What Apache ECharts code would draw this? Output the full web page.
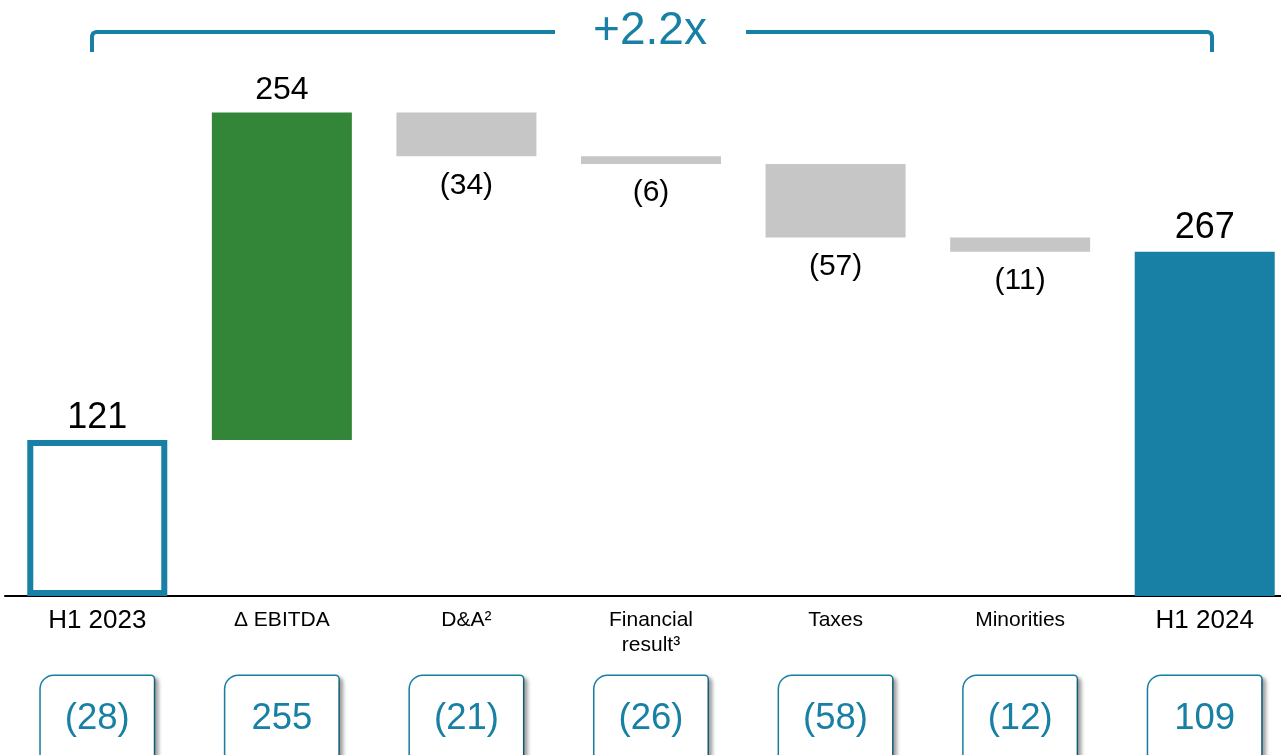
<!DOCTYPE html>
<html>
<head>
<meta charset="utf-8">
<script src="https://cdn.jsdelivr.net/npm/echarts@6/dist/echarts.min.js"></script>
<style>
  html, body { margin: 0; padding: 0; background: #fff; }
  #chart { width: 1281px; height: 755px; }
</style>
</head>
<body>
<div id="chart"></div>
<script>
// 类目与数值
var categories = ['H1 2023', 'Δ EBITDA', 'D&A²', 'Financial\nresult³', 'Taxes', 'Minorities', 'H1 2024']
var changes = [121, 254, -34, -6, -57, -11, 267]
var isTotal = [true, false, false, false, false, false, true]
var barLabels = ['121', '254', '(34)', '(6)', '(57)', '(11)', '267']
var boxValues = ['(28)', '255', '(21)', '(26)', '(58)', '(12)', '109']
var growthText = '+2.2x'

var TEAL = '#1780a4'
var GREEN = '#338537'
var GREY = '#c6c6c6'

// 瀑布图: 透明底 + 可见部分
var baseData = []
var valueData = []
var running = 0
for (var i = 0; i < changes.length; i++) {
  var v = changes[i]
  if (isTotal[i]) {
    baseData.push(0)
    valueData.push(v)
    running = v
  } else if (v >= 0) {
    baseData.push(running)
    valueData.push(v)
    running += v
  } else {
    running += v
    baseData.push(running)
    valueData.push(-v)
  }
}

var valueItems = valueData.map(function (v, i) {
  var item = { value: v, itemStyle: {}, label: {} }
  if (i === 0) {
    item.itemStyle = { color: '#fff', borderColor: TEAL, borderWidth: 6 }
    item.label = { position: 'top', distance: 4, fontSize: 36 }
  } else if (i === changes.length - 1) {
    item.itemStyle = { color: TEAL }
    item.label = { position: 'top', distance: 6, fontSize: 36 }
  } else if (changes[i] >= 0) {
    item.itemStyle = { color: GREEN }
    item.label = { position: 'top', distance: 6, fontSize: 32 }
  } else {
    item.itemStyle = { color: GREY }
    item.label = { position: 'bottom', distance: 14, fontSize: 30 }
  }
  return item
})

var chart = echarts.init(document.getElementById('chart'))

var option = {
  animation: false,
  grid: { left: 5, top: 106, width: 1292, bottom: 159, outerBoundsMode: 'none', containLabel: false },
  xAxis: [
    {
      type: 'category',
      data: categories,
      axisLine: { lineStyle: { color: '#000', width: 2 } },
      axisTick: { show: false },
      axisLabel: {
        interval: 0,
        margin: 12,
        fontFamily: 'Liberation Sans',
        color: '#000',
        formatter: function (val, idx) {
          var style = isTotal[idx] ? 'big' : 'sm'
          return val.split('\n').map(function (s) {
            return '{' + style + '|' + s + '}'
          }).join('\n')
        },
        rich: {
          big: { fontSize: 26, lineHeight: 26, fontFamily: 'Liberation Sans', color: '#000' },
          sm: { fontSize: 21, lineHeight: 25, fontFamily: 'Liberation Sans', color: '#000' }
        }
      }
    },
    {
      type: 'category',
      data: categories,
      position: 'bottom',
      axisLine: { show: false },
      axisTick: { show: false },
      axisLabel: {
        interval: 0,
        margin: 80,
        verticalAlign: 'top',
        formatter: function (val, idx) {
          return boxValues[idx]
        },
        fontFamily: 'Liberation Sans',
        fontSize: 36.5,
        lineHeight: 42,
        color: TEAL,
        width: 113,
        align: 'center',
        padding: [22, 0, 40, 0],
        backgroundColor: '#fff',
        borderColor: TEAL,
        borderWidth: 1.5,
        borderRadius: [13, 3, 13, 3],
        shadowColor: 'rgba(0,0,0,0.35)',
        shadowBlur: 4,
        shadowOffsetX: 3,
        shadowOffsetY: 3
      }
    }
  ],
  yAxis: {
    type: 'value',
    min: 0,
    max: 380,
    show: false
  },
  series: [
    {
      type: 'bar',
      stack: 'w',
      barWidth: 140,
      silent: true,
      itemStyle: { color: 'transparent' },
      data: baseData
    },
    {
      type: 'bar',
      stack: 'w',
      barWidth: 140,
      label: {
        show: true,
        color: '#000',
        fontFamily: 'Liberation Sans',
        formatter: function (p) {
          return barLabels[p.dataIndex]
        }
      },
      data: valueItems
    }
  ],
  graphic: [
    {
      type: 'polyline',
      shape: { points: [[92, 52], [92, 36], [93.2, 33.2], [96, 32], [555, 32]] },
      style: { fill: null, stroke: TEAL, lineWidth: 4 }
    },
    {
      type: 'polyline',
      shape: { points: [[746, 32], [1208, 32], [1210.8, 33.2], [1212, 36], [1212, 52]] },
      style: { fill: null, stroke: TEAL, lineWidth: 4 }
    },
    {
      type: 'text',
      x: 650,
      y: 31,
      style: {
        text: growthText,
        fill: TEAL,
        font: '46px "Liberation Sans"',
        textAlign: 'center',
        textVerticalAlign: 'middle'
      }
    }
  ]
}

chart.setOption(option)
</script>
</body>
</html>
